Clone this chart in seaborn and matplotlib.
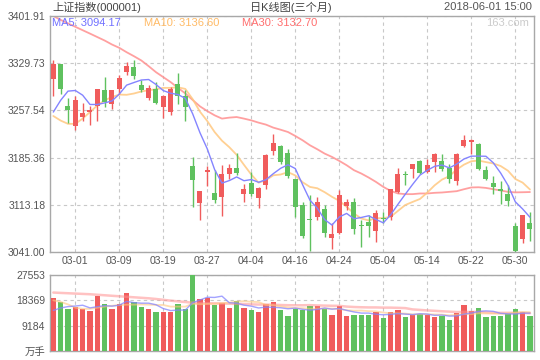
import matplotlib
matplotlib.use('Agg')
import matplotlib.pyplot as plt
import numpy as np
import pandas as pd
import seaborn as sns

# trading days shown (MM-DD)
dates = ['02-26', '02-27', '02-28', '03-01', '03-02', '03-05', '03-06', '03-07', '03-08', '03-09',
         '03-12', '03-13', '03-14', '03-15', '03-16', '03-19', '03-20', '03-21', '03-22', '03-23',
         '03-26', '03-27', '03-28', '03-29', '03-30', '04-02', '04-03', '04-04', '04-09', '04-10',
         '04-11', '04-12', '04-13', '04-16', '04-17', '04-18', '04-19', '04-20', '04-23', '04-24',
         '04-25', '04-26', '04-27', '05-02', '05-03', '05-04', '05-07', '05-08', '05-09', '05-10',
         '05-11', '05-14', '05-15', '05-16', '05-17', '05-18', '05-21', '05-22', '05-23', '05-24',
         '05-25', '05-28', '05-29', '05-30', '05-31', '06-01']

opens = [3305, 3328, 3264, 3234, 3247, 3255, 3264, 3288, 3268, 3290,
         3317, 3324, 3297, 3277, 3290, 3263, 3255, 3298, 3280, 3172,
         3116, 3164, 3131, 3125, 3161, 3170, 3129, 3147, 3124, 3143,
         3195, 3203, 3192, 3152, 3113, 3091, 3094, 3107, 3063, 3070,
         3112, 3118, 3082, 3087, 3073, 3093, 3094, 3133, 3160, 3168,
         3180, 3164, 3179, 3180, 3170, 3150, 3203, 3209, 3206, 3167,
         3147, 3137, 3130, 3081, 3061, 3086]
closes = [3329, 3290, 3258, 3273, 3254, 3258, 3290, 3270, 3288, 3307,
          3326, 3310, 3289, 3292, 3269, 3279, 3290, 3279, 3263, 3151,
          3134, 3166, 3121, 3160, 3170, 3162, 3137, 3130, 3139, 3190,
          3208, 3178, 3157, 3110, 3066, 3090, 3117, 3070, 3068, 3128,
          3117, 3076, 3080, 3081, 3100, 3091, 3137, 3161, 3158, 3175,
          3162, 3174, 3191, 3168, 3153, 3191, 3213, 3213, 3168, 3152,
          3141, 3135, 3119, 3042, 3097, 3076]
highs = [3335, 3329, 3277, 3279, 3269, 3265, 3291, 3308, 3289, 3311,
         3332, 3334, 3304, 3296, 3301, 3281, 3293, 3315, 3288, 3187,
         3135, 3172, 3166, 3174, 3176, 3192, 3145, 3163, 3140, 3191,
         3221, 3204, 3198, 3153, 3118, 3128, 3125, 3113, 3085, 3136,
         3122, 3123, 3090, 3097, 3105, 3102, 3138, 3170, 3165, 3176,
         3181, 3183, 3192, 3191, 3176, 3193, 3220, 3214, 3207, 3173,
         3157, 3149, 3144, 3086, 3098, 3102]
lows = [3279, 3282, 3238, 3228, 3241, 3235, 3242, 3263, 3259, 3283,
        3312, 3306, 3285, 3273, 3268, 3246, 3250, 3267, 3241, 3110,
        3090, 3142, 3116, 3096, 3152, 3159, 3118, 3126, 3109, 3137,
        3190, 3175, 3154, 3095, 3063, 3042, 3090, 3064, 3045, 3068,
        3105, 3068, 3049, 3064, 3056, 3085, 3090, 3131, 3143, 3154,
        3161, 3162, 3163, 3165, 3147, 3143, 3201, 3191, 3167, 3151,
        3130, 3114, 3112, 3041, 3054, 3058]

ma5 = [3255, 3273, 3287, 3288, 3280.8, 3266.6, 3266.6, 3269.0, 3272.0, 3282.6,
       3296.2, 3300.2, 3304.0, 3304.8, 3297.2, 3287.8, 3283.8, 3281.8, 3276.0, 3252.4,
       3223.4, 3198.6, 3167.0, 3146.4, 3150.2, 3155.8, 3150.0, 3151.8, 3147.6, 3151.6,
       3160.8, 3169.0, 3174.4, 3168.6, 3143.8, 3120.2, 3108.0, 3090.6, 3082.2, 3094.6,
       3100.0, 3091.8, 3093.8, 3096.4, 3090.8, 3085.6, 3097.8, 3114.0, 3129.4, 3144.4,
       3158.6, 3166.0, 3172.0, 3174.0, 3169.6, 3175.4, 3183.2, 3187.6, 3187.6, 3187.4,
       3177.4, 3161.8, 3143.0, 3117.8, 3106.8, 3094.17]
ma10 = [3249, 3242, 3237, 3237, 3245, 3255, 3265, 3273, 3278, 3281.7,
        3281.4, 3283.4, 3286.5, 3288.4, 3289.9, 3292.0, 3292.0, 3292.9, 3290.4, 3274.8,
        3255.6, 3241.2, 3224.4, 3211.2, 3201.3, 3189.6, 3174.3, 3159.4, 3147.0, 3150.9,
        3158.3, 3159.5, 3163.1, 3158.1, 3147.7, 3140.5, 3138.5, 3132.5, 3125.4, 3119.2,
        3110.1, 3099.9, 3092.2, 3089.3, 3092.7, 3092.8, 3094.8, 3103.9, 3112.9, 3117.6,
        3122.1, 3131.9, 3143.0, 3151.7, 3157.0, 3167.0, 3174.6, 3179.8, 3180.8, 3178.5,
        3176.4, 3172.5, 3165.3, 3152.7, 3147.1, 3136.60]
ma30 = [3401.9, 3396.0, 3390.6, 3385.4, 3380.2, 3375.0, 3369.7, 3364.4, 3358.3, 3353.2,
        3346.5, 3340.4, 3333.9, 3325.2, 3316.0, 3308.4, 3300.8, 3292.0, 3283.5, 3273.5,
        3263.7, 3256.5, 3250.0, 3245.0, 3246.5, 3247.4, 3245.0, 3242.3, 3238.8, 3235.8,
        3231.2, 3228.0, 3224.5, 3218.4, 3211.8, 3204.2, 3198.1, 3191.5, 3186.4, 3180.3,
        3173.7, 3166.1, 3161.0, 3154.9, 3148.2, 3140.6, 3134.5, 3130.5, 3129.5, 3129.5,
        3130.5, 3130.5, 3131.5, 3132.0, 3133.0, 3134.0, 3137.0, 3139.7, 3140.0, 3139.0,
        3137.0, 3135.1, 3133.0, 3132.2, 3132.4, 3132.70]

# volume in 万手
volume = [19220, 17750, 15060, 15920, 15060, 14330, 19960, 16900, 15060, 16900,
          21060, 17750, 15920, 15060, 14080, 14080, 14080, 16900, 15060, 27553,
          18740, 19220, 16530, 17390, 15550, 18120, 15550, 14700, 14080, 17150,
          17750, 14700, 12860, 15310, 14940, 16170, 16170, 15310, 13230, 16170,
          12860, 13230, 13230, 13230, 14080, 11880, 13960, 14700, 12250, 13230,
          13470, 13230, 12490, 12740, 11390, 13720, 16530, 14330, 15680, 12490,
          12860, 12860, 13470, 15310, 14080, 12860]
vol_ma5 = [14700, 15600, 16100, 16300, 16600, 15625, 16067, 16434, 16263, 16630,
           17977, 17535, 17339, 17339, 16776, 15380, 14646, 14842, 14842, 17536,
           18467, 19494, 19420, 19886, 17484, 17361, 16627, 16260, 15598, 15919,
           15845, 15675, 15308, 15553, 15111, 14794, 15088, 15578, 15161, 15406,
           14745, 14157, 13741, 13741, 13324, 13128, 13275, 13569, 13373, 13202,
           13520, 13373, 12932, 13030, 12663, 12712, 13373, 13741, 14328, 14549,
           14378, 13643, 13471, 13398, 13716, 13716]
vol_ma10 = [18370, 17800, 16900, 15700, 15300, 15300, 15700, 16100, 16400, 16616,
            16801, 16801, 16887, 16801, 16703, 16679, 16091, 16091, 16091, 17156,
            16924, 17070, 17131, 17364, 17510, 17914, 18061, 17840, 17742, 16702,
            16603, 16151, 15784, 15576, 15515, 15320, 15382, 15443, 15357, 15259,
            14770, 14623, 14660, 14451, 14365, 13937, 13716, 13655, 13557, 13263,
            13324, 13324, 13251, 13202, 12933, 13116, 13373, 13337, 13679, 13606,
            13545, 13508, 13606, 13863, 14133, 14047]
vol_ma30 = [21190, 21060, 20940, 20820, 20700, 20580, 20390, 20210, 20020, 19840,
            19660, 19470, 19290, 19110, 18860, 18550, 18250, 18000, 17760, 17510,
            17390, 17330, 17270, 17210, 17150, 17090, 17020, 16900, 16840, 16825,
            16776, 16674, 16601, 16580, 16576, 16637, 16511, 16458, 16397, 16372,
            16099, 15948, 15858, 15797, 15797, 15723, 15719, 15646, 15552, 15074,
            14899, 14699, 14565, 14409, 14271, 14124, 14157, 14145, 14198, 14043,
            13879, 13818, 13839, 13839, 13810, 13700]

tick_dates = ['03-01', '03-09', '03-19', '03-27', '04-04', '04-16',
              '04-24', '05-04', '05-14', '05-22', '05-30']
price_ticks = [3041.00, 3113.18, 3185.36, 3257.54, 3329.73, 3401.91]
vol_ticks = [0, 9184, 18369, 27553]
vol_tick_labels = ['万手', '9184', '18369', '27553']

RED = '#f05c5c'
GREEN = '#5fc15f'
C_MA5 = '#8484ff'
C_MA10 = '#ffc880'
C_MA30 = '#ff9090'
GRID = '#c8c8c8'
SPINE = '#a8a8a8'
TXT = '#555555'

sns.set_style('white')
plt.rcParams['font.family'] = ['Liberation Sans', 'Noto Sans CJK SC']

df = pd.DataFrame({'date': dates, 'open': opens, 'close': closes, 'high': highs, 'low': lows,
                   'ma5': ma5, 'ma10': ma10, 'ma30': ma30, 'vol': volume,
                   'vma5': vol_ma5, 'vma10': vol_ma10, 'vma30': vol_ma30})
df['x'] = np.arange(len(df))
df['dir'] = np.where(df['close'] >= df['open'], 'up', 'down')
colors = np.where(df['dir'] == 'up', RED, GREEN)
tick_pos = [dates.index(d) for d in tick_dates]

W, H = 540, 360
fig = plt.figure(figsize=(5.4, 3.6), dpi=100)
ax = fig.add_axes([49.5 / W, 1 - 252 / H, 484.5 / W, 236 / H])
axv = fig.add_axes([49.5 / W, 1 - 351 / H, 484.5 / W, 76 / H])

# candles
ax.vlines(df['x'], df['low'], df['high'], colors=colors, linewidth=1, zorder=3)
body_bottom = np.minimum(df['open'], df['close'])
body_h = np.maximum(np.abs(df['close'] - df['open']), 1.2)
ax.bar(df['x'], body_h, bottom=body_bottom, width=0.68, color=colors, linewidth=0, zorder=4)

# moving averages
sns.lineplot(data=df, x='x', y='ma30', ax=ax, color=C_MA30, linewidth=1.3, alpha=0.85, zorder=2)
sns.lineplot(data=df, x='x', y='ma10', ax=ax, color=C_MA10, linewidth=1.3, alpha=0.85, zorder=2)
sns.lineplot(data=df, x='x', y='ma5', ax=ax, color=C_MA5, linewidth=1.0, zorder=5)

# volume
sns.barplot(data=df, x='x', y='vol', hue='dir', palette={'up': RED, 'down': GREEN},
            dodge=False, native_scale=True, width=0.7, saturation=1, errorbar=None,
            legend=False, linewidth=0, ax=axv, zorder=3)
sns.lineplot(data=df, x='x', y='vma30', ax=axv, color=C_MA30, linewidth=1.8, alpha=0.55, zorder=4)
sns.lineplot(data=df, x='x', y='vma10', ax=axv, color=C_MA10, linewidth=1.3, alpha=0.6, zorder=4)
sns.lineplot(data=df, x='x', y='vma5', ax=axv, color=C_MA5, linewidth=1.0, alpha=0.75, zorder=4)

for a in (ax, axv):
    a.set_xlim(-0.52, 65.55)
    a.set_xlabel('')
    a.set_ylabel('')
    a.set_xticks(tick_pos)
    a.grid(True, color=GRID, linestyle=(0, (3, 3)), linewidth=0.8)
    a.set_axisbelow(True)
    a.tick_params(length=0, labelsize=7.5, colors=TXT, pad=3)
    for s in a.spines.values():
        s.set_color(SPINE)
        s.set_linewidth(1)

ax.set_ylim(price_ticks[0], price_ticks[-1])
ax.set_yticks(price_ticks)
ax.set_yticklabels([f'{v:.2f}' for v in price_ticks])
ax.set_xticklabels(tick_dates)

axv.set_ylim(0, vol_ticks[-1])
axv.set_yticks(vol_ticks)
axv.set_yticklabels(vol_tick_labels)
axv.set_xticklabels([])

# header texts
def px(x, y):
    return x / W, 1 - y / H

fig.text(*px(52, 7), '上证指数(000001)', ha='left', va='center', fontsize=8, color='#444444')
fig.text(*px(291, 7), '日K线图(三个月)', ha='center', va='center', fontsize=8, color='#444444')
fig.text(*px(532, 7), '2018-06-01 15:00', ha='right', va='center', fontsize=8, color=TXT)
fig.text(*px(52, 23), f'MA5: {ma5[-1]:.2f}', ha='left', va='center', fontsize=8, color='#7070ff')
fig.text(*px(144, 23), f'MA10: {ma10[-1]:.2f}', ha='left', va='center', fontsize=8, color='#ffbb66')
fig.text(*px(242, 23), f'MA30: {ma30[-1]:.2f}', ha='left', va='center', fontsize=8, color='#ff6e6e')
fig.text(*px(529, 23), '163.com', ha='right', va='center', fontsize=8, color='#cccccc')

fig.savefig('out.png', dpi=100)
